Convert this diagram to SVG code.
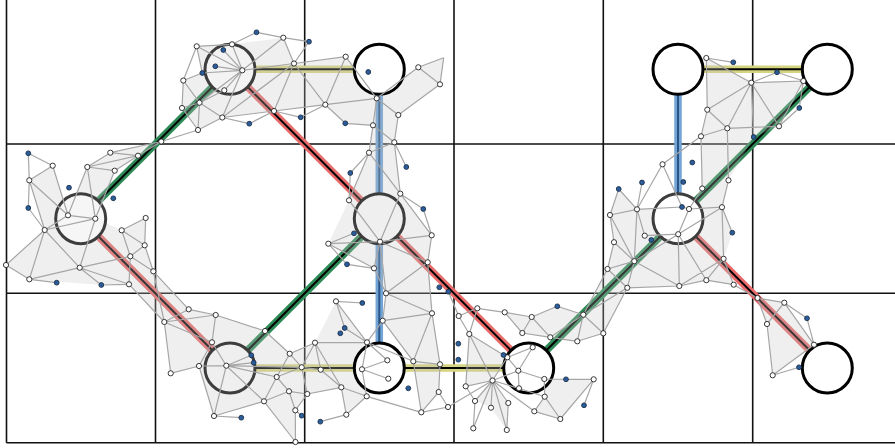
<svg xmlns="http://www.w3.org/2000/svg" width="895" height="448" viewBox="0 0 895 448">
<style>
.grid{stroke:#111;stroke-width:1.6;fill:none}
.band{fill:none;stroke-width:7.5}
.g{stroke:#2e8b57}
.r{stroke:#e86a6a}
.y{stroke:#d4d482}
.bl{stroke:#72a4d6}
.core{fill:none;stroke:#000;stroke-width:2}
.corebl{fill:none;stroke:#2a5585;stroke-width:2}
.hull{fill:#c4c4c4;fill-opacity:0.28;stroke:none}
.mesh{fill:none;stroke:#a6a6a6;stroke-width:1.2}
.big{stroke-width:3}
.w{fill:#fff;stroke:#222;stroke-width:0.9}
.b{fill:#2b5d9b;stroke:#1b2f4a;stroke-width:0.9}
</style>
<rect width="895" height="448" fill="#fff"/>
<g id="grid" class="grid">
<path d="M6.5 0V442.7M155.5 0V442.7M304.7 0V442.7M454 0V442.7M603.3 0V442.7M752.7 0V442.7M6.5 144H895M6.5 293.3H895M6.5 442.7H895"/>
</g>
<g id="connectors">
<g class="band">
<path class="g" d="M80.7 218.7L230 69.3M379.3 218.7L230 368M528.7 368L678 218.7M678 218.7L827.3 69.3"/>
<path class="r" d="M230 69.3L379.3 218.7M379.3 218.7L528.7 368M80.7 218.7L230 368M678 218.7L827.3 368"/>
<path class="y" d="M230 69.3H379.3M230 368H379.3M379.3 368H528.7M678 69.3H827.3"/>
<path class="bl" d="M379.3 69.3V368M678 69.3V218.7"/>
</g>
<path class="core" d="M80.7 218.7L230 69.3M379.3 218.7L230 368M528.7 368L678 218.7M678 218.7L827.3 69.3M230 69.3L379.3 218.7M379.3 218.7L528.7 368M80.7 218.7L230 368M678 218.7L827.3 368M230 69.3H379.3M230 368H379.3M379.3 368H528.7M678 69.3H827.3"/>
<path class="corebl" d="M379.3 69.3V368M678 69.3V218.7"/>
</g>
<g id="hulls" class="hull">
<polygon points="196.7,46.3 232,44.3 283.3,37.7 294,63.5 345.7,56.7 376.7,98.3 373,125.3 345.3,123.3 325.3,104.7 274,111 222.3,117.5 198,130 182,108 183.3,80.5 202.3,73"/>
<polygon points="376.7,98.3 418.3,67.3 443.7,57.7 440,84.3 398.3,115 394.3,142.3 400.3,193.7 431.7,235.3 427.7,262.3 432,313.3 382.7,320.7 386,293.3 374,268.3 328.3,243.7 349,200.3 369,152.7 373,125.3"/>
<polygon points="164.3,322 188.7,309.3 215.7,315 265,331 289.7,353.7 315,342.7 336,301.3 367,342.3 362,369.3 366.7,396.3 346.3,414.7 341.3,387.3 307.3,394 295.3,410.3 295.5,442 264,401.3 214,416 199,366 170.7,373.3"/>
<polygon points="382.7,320.7 432,313.3 440,364.3 438.7,392 421.3,412.3 413.3,361.3"/>
<polygon points="504.7,312.3 531.7,317 557.3,306.3 583.3,314.7 607.5,269 627.3,287.8 603.3,333.3 577.3,341.3 550.3,337.3 522.3,333"/>
<polygon points="469.3,334 507.3,357.3 492.5,380.5 465.7,386.3"/>
<polygon points="544.3,379 593.7,379.3 560.3,419 534.3,411.3 544.7,396.7"/>
<polygon points="492.5,380.5 508.3,403 506.8,430 491,407.7 475,401"/>
<polygon points="706.3,58 751.3,82.7 803.3,81 779,126.3 753.7,137 728.5,180.3 722,207.2 732.3,232.7 723.6,258.8 733.7,284.7 706.3,280.2 679.3,286 627.3,287.8 607.5,269 614,242.2 610,215 618.7,189 637,209.3 682,207 689,209 702.2,188.5 701,136.3 707.3,109.7"/>
<polygon points="161.3,141.5 114.7,170.7 95.3,218.7 121.7,230.3 145.7,218 144.7,245.3 153.3,271.3 188.7,309.3 164.3,322 129,284.3 101.3,285 29.3,279.3 6,265 44.7,230 29.3,180.3 52.7,165.7 68,215.3 87.3,167 110.3,152.7"/>
<polygon points="757.5,298 784.3,302.7 814,344.7 772.7,375.3 767,324"/>
</g>
<g id="node-r0c1"><circle cx="230" cy="69.3" r="25" class="big" fill="#f3f3f3" stroke="#3d3d3d"/></g>
<g id="node-r0c2"><circle cx="379.3" cy="69.3" r="25" class="big" fill="#fff" stroke="#000"/></g>
<g id="node-r0c4"><circle cx="678" cy="69.3" r="25" class="big" fill="#fff" stroke="#000"/></g>
<g id="node-r0c5"><circle cx="827.3" cy="69.3" r="25" class="big" fill="#fff" stroke="#000"/></g>
<g id="node-r1c0"><circle cx="80.7" cy="218.7" r="25" class="big" fill="#f6f6f6" stroke="#3d3d3d"/></g>
<g id="node-r1c2"><circle cx="379.3" cy="218.7" r="25" class="big" fill="#efefef" stroke="#3d3d3d"/></g>
<g id="node-r1c4"><circle cx="678" cy="218.7" r="25" class="big" fill="#fff" stroke="#3d3d3d"/></g>
<g id="node-r2c1"><circle cx="230" cy="368" r="25" class="big" fill="#efefef" stroke="#3d3d3d"/></g>
<g id="node-r2c2"><circle cx="379.3" cy="368" r="25" class="big" fill="#fff" stroke="#000"/></g>
<g id="node-r2c3"><circle cx="528.7" cy="368" r="25" class="big" fill="#fff" stroke="#000"/></g>
<g id="node-r2c5"><circle cx="827.3" cy="368" r="25" class="big" fill="#fff" stroke="#000"/></g>
<g id="mesh" class="mesh">
<path d="M196.7 46.3L232 44.3M196.7 46.3L202.3 73M196.7 46.3L242.3 70.3M232 44.3L256.5 32.3M232 44.3L242.3 70.3M256.5 32.3L283.3 37.7M283.3 37.7L309 41.7M283.3 37.7L242.3 70.3M283.3 37.7L294 63.5M309 41.7L294 63.5M223.3 50L242.3 70.3M215.3 66.3L242.3 70.3M202.3 73L242.3 70.3M242.3 70.3L294 63.5M242.3 70.3L224.3 90.3M242.3 70.3L199.5 102.7M242.3 70.3L222.3 117.5M294 63.5L274 111M294 63.5L222.3 117.5M224.3 90.3L199.5 102.7M183.3 80.5L202.3 73M183.3 80.5L182 108M183.3 80.5L199.5 102.7M196.7 46.3L183.3 80.5M182 108L199.5 102.7M182 108L198 130M199.5 102.7L198 130M199.5 102.7L222.3 117.5M222.3 117.5L198 130M222.3 117.5L249.3 123.7M222.3 117.5L274 111M249.3 123.7L274 111M274 111L300.7 117.3M198 130L161.3 141.5M294 63.5L345.7 56.7M294 63.5L325.3 104.7M274 111L325.3 104.7M300.7 117.3L325.3 104.7"/>
<path d="M345.7 56.7L325.3 104.7M345.7 56.7L376.7 98.3M325.3 104.7L376.7 98.3M325.3 104.7L345.3 123.3M345.3 123.3L373 125.3M373 125.3L376.7 98.3M376.7 98.3L398.3 115M376.7 98.3L418.3 67.3M418.3 67.3L443.7 57.7M443.7 57.7L440 84.3M418.3 67.3L440 84.3M440 84.3L398.3 115M398.3 115L394.3 142.3M373 125.3L394.3 142.3M373 125.3L369 152.7M394.3 142.3L369 152.7M394.3 142.3L406.3 167M394.3 142.3L400.3 193.7M369 152.7L350.3 173M369 152.7L400.3 193.7M369 152.7L349 200.3M350.3 173L349 200.3M400.3 193.7L423.3 209M400.3 193.7L431.7 235.3M423.3 209L431.7 235.3M400.3 193.7L380 241.7M349 200.3L380 241.7"/>
<path d="M328.3 243.7L380 241.7M328.3 243.7L354 233.3M328.3 243.7L374 268.3M328.3 243.7L347 264.3M347 264.3L374 268.3M380 241.7L374 268.3M380 241.7L386 293.3M374 268.3L386 293.3M380 241.7L431.7 235.3M380 241.7L427.7 262.3M431.7 235.3L427.7 262.3M427.7 262.3L386 293.3M427.7 262.3L432 313.3M448.3 291.7L458.7 316M386 293.3L432 313.3M386 293.3L382.7 320.7"/>
<path d="M432 313.3L382.7 320.7M336 301.3L362.3 303M336 301.3L344.7 328M336 301.3L367 342.3M344.7 328L367 342.3M315 342.7L367 342.3M315 342.7L301.7 367.3M315 342.7L320.7 369.7M315 342.7L341.3 387.3M382.7 320.7L367 342.3M382.7 320.7L413.3 361.3M432 313.3L413.3 361.3M432 313.3L440 364.3M367 342.3L362 369.3M367 342.3L387.3 360.3M367 342.3L413.3 361.3M362 369.3L387.3 360.3M362 369.3L388.3 378.7M320.7 369.7L301.7 367.3M320.7 369.7L341.3 387.3M301.7 367.3L307.3 394M341.3 387.3L307.3 394M341.3 387.3L366.7 396.3M341.3 387.3L346.3 414.7M346.3 414.7L366.7 396.3M346.3 414.7L320.3 421.7M366.7 396.3L362 369.3M413.3 361.3L440 364.3M413.3 361.3L421.3 412.3M440 364.3L438.7 392M438.7 392L448 407M438.7 392L421.3 412.3M421.3 412.3L448 407M421.3 412.3L366.7 396.3M448 407L492.5 380.5M307.3 394L295.3 410.3M307.3 394L289 391.3"/>
<path d="M164.3 322L188.7 309.3M164.3 322L215.7 315M188.7 309.3L215.7 315M164.3 322L212 342.3M164.3 322L170.7 373.3M170.7 373.3L199 366M212 342.3L199 366M215.7 315L212 342.3M215.7 315L265 331M212 342.3L226.3 365.7M199 366L226.3 365.7M226.3 365.7L251.3 355.3M226.3 365.7L253.7 362.7M226.3 365.7L301.7 367.3M226.3 365.7L276.7 377M226.3 365.7L264 401.3M226.3 365.7L214 416M199 366L214 416M214 416L241.3 417.7M214 416L264 401.3M264 401.3L276.7 377M264 401.3L289 391.3M264 401.3L295.5 442M276.7 377L289.7 353.7M276.7 377L289 391.3M276.7 377L301.7 367.3M289 391.3L295.3 410.3M295.3 410.3L301.7 415.7M295.3 410.3L295.5 442M289.7 353.7L301.7 367.3M265 331L289.7 353.7M289.7 353.7L315 342.7M164.3 322L153.3 271.3M188.7 309.3L153.3 271.3M164.3 322L129 284.3"/>
<path d="M28.3 153.3L52.7 165.7M28.3 153.3L29.3 180.3M52.7 165.7L29.3 180.3M52.7 165.7L68 215.3M29.3 180.3L68 215.3M29.3 180.3L28.3 208M29.3 180.3L44.7 230M28.3 208L44.7 230M68 215.3L44.7 230M68 215.3L95.3 218.7M87.3 167L68 215.3M87.3 167L95.3 218.7M87.3 167L110.3 152.7M87.3 167L138 155.7M87.3 167L114.7 170.7M110.3 152.7L138 155.7M110.3 152.7L161.3 141.5M138 155.7L161.3 141.5M138 155.7L114.7 170.7M114.7 170.7L95.3 218.7M44.7 230L6 265M44.7 230L79.7 267.7M44.7 230L95.3 218.7M6 265L29.3 279.3M44.7 230L29.3 279.3M29.3 279.3L79.7 267.7M29.3 279.3L56.7 282.7M79.7 267.7L101.3 285M101.3 285L129 284.3M79.7 267.7L129 284.3M79.7 267.7L130.3 256.3M95.3 218.7L79.7 267.7M121.7 230.3L145.7 218M121.7 230.3L130.3 256.3M121.7 230.3L144.7 245.3M145.7 218L144.7 245.3M144.7 245.3L130.3 256.3M130.3 256.3L153.3 271.3M130.3 256.3L129 284.3M144.7 245.3L153.3 271.3"/>
<path d="M477.3 308.3L504.7 312.3M477.3 308.3L458.7 316M458.7 316L469.3 334M477.3 308.3L469.3 334M504.7 312.3L531.7 317M504.7 312.3L522.3 333M531.7 317L557.3 306.3M531.7 317L522.3 333M531.7 317L550.3 337.3M557.3 306.3L583.3 314.7M550.3 337.3L583.3 314.7M550.3 337.3L577.3 341.3M583.3 314.7L577.3 341.3M522.3 333L550.3 337.3M583.3 314.7L603.3 333.3M577.3 341.3L603.3 333.3M583.3 314.7L607.5 269M583.3 314.7L627.3 287.8M603.3 333.3L627.3 287.8M469.3 334L507.3 357.3M469.3 334L492.5 380.5M469.3 334L465.7 386.3M507.3 357.3L492.5 380.5M507.3 357.3L518.3 370.7M507.3 357.3L532.7 347.3M518.3 370.7L544.3 379M532.7 347.3L518.3 370.7M518.3 370.7L492.5 380.5M544.3 379L593.7 379.3M544.3 379L544.7 396.7M593.7 379.3L560.3 419M566 379.3L593.7 379.3M544.7 396.7L560.3 419M544.7 396.7L534.3 411.3M519 388.3L544.7 396.7M519 388.3L518.3 370.7M492.5 380.5L465.7 386.3M492.5 380.5L475 401M492.5 380.5L491 407.7M492.5 380.5L508.3 403M492.5 380.5L519 388.3M492.5 380.5L473.3 428.3M492.5 380.5L506.8 430M492.5 380.5L534.3 411.3M465.7 386.3L475 401M475 401L473.3 428.3M508.3 403L506.8 430M534.3 411.3L560.3 419M584 405.3L593.7 379.3"/>
<path d="M662.5 164.3L637 209.3M662.5 164.3L682 207M662.5 164.3L701 136.3M618.7 189L610 215M618.7 189L637 209.3M642 182.5L637 209.3M610 215L637 209.3M610 215L614 242.2M637 209.3L682 207M637 209.3L644.7 235.7M637 209.3L634.3 261.2M610 215L634.3 261.2M682 207L689 209M689 209L702.2 188.5M702.2 188.5L701 136.3M689 209L678.2 234.2M689 209L722 207.2M678.2 234.2L644.7 235.7M678.2 234.2L679.3 286M678.2 234.2L722 207.2M678.2 234.2L634.3 261.2M678.2 234.2L706.3 280.2M722 207.2L728.5 180.3M722 207.2L732.3 232.7M722 207.2L723.6 258.8M723.6 258.8L733.7 284.7M723.6 258.8L706.3 280.2M723.6 258.8L679.3 286M679.3 286L706.3 280.2M706.3 280.2L733.7 284.7M679.3 286L634.3 261.2M679.3 286L627.3 287.8M634.3 261.2L627.3 287.8M634.3 261.2L614 242.2M634.3 261.2L607.5 269M614 242.2L607.5 269M607.5 269L627.3 287.8M733.7 284.7L757.5 298M728.5 180.3L727.3 128.3"/>
<path d="M706.3 58L733.3 62.3M706.3 58L751.3 82.7M706.3 58L707.3 109.7M751.3 82.7L777 72.3M777 72.3L803.3 81M751.3 82.7L803.3 81M751.3 82.7L707.3 109.7M751.3 82.7L727.3 128.3M751.3 82.7L779 126.3M751.3 82.7L753.7 137M803.3 81L779 126.3M803.3 81L799.3 108M799.3 108L779 126.3M707.3 109.7L727.3 128.3M707.3 109.7L701 136.3M727.3 128.3L701 136.3M727.3 128.3L779 126.3"/>
<path d="M757.5 298L784.3 302.7M757.5 298L767 324M784.3 302.7L807 318.3M784.3 302.7L767 324M807 318.3L814 344.7M784.3 302.7L814 344.7M767 324L772.7 375.3M814 344.7L772.7 375.3M799 367.3L772.7 375.3"/>
</g>
<g id="points">
<g class="w">
<circle cx="196.7" cy="46.3" r="2.6"/><circle cx="232" cy="44.3" r="2.6"/><circle cx="283.3" cy="37.7" r="2.6"/><circle cx="242.3" cy="70.3" r="2.6"/><circle cx="294" cy="63.5" r="2.6"/><circle cx="224.3" cy="90.3" r="2.6"/><circle cx="183.3" cy="80.5" r="2.6"/><circle cx="182" cy="108" r="2.6"/><circle cx="199.5" cy="102.7" r="2.6"/><circle cx="222.3" cy="117.5" r="2.6"/><circle cx="198" cy="130" r="2.6"/><circle cx="274" cy="111" r="2.6"/><circle cx="161.3" cy="141.5" r="2.6"/>
<circle cx="345.7" cy="56.7" r="2.6"/><circle cx="325.3" cy="104.7" r="2.6"/><circle cx="373" cy="125.3" r="2.6"/><circle cx="376.7" cy="98.3" r="2.6"/><circle cx="398.3" cy="115" r="2.6"/><circle cx="418.3" cy="67.3" r="2.6"/><circle cx="440" cy="84.3" r="2.6"/><circle cx="394.3" cy="142.3" r="2.6"/><circle cx="369" cy="152.7" r="2.6"/><circle cx="400.3" cy="193.7" r="2.6"/><circle cx="349" cy="200.3" r="2.6"/>
<circle cx="380" cy="241.7" r="2.6"/><circle cx="328.3" cy="243.7" r="2.6"/><circle cx="431.7" cy="235.3" r="2.6"/><circle cx="374" cy="268.3" r="2.6"/><circle cx="427.7" cy="262.3" r="2.6"/><circle cx="386" cy="293.3" r="2.6"/>
<circle cx="432" cy="313.3" r="2.6"/><circle cx="382.7" cy="320.7" r="2.6"/><circle cx="336" cy="301.3" r="2.6"/><circle cx="315" cy="342.7" r="2.6"/><circle cx="367" cy="342.3" r="2.6"/><circle cx="387.3" cy="360.3" r="2.6"/><circle cx="413.3" cy="361.3" r="2.6"/><circle cx="440" cy="364.3" r="2.6"/><circle cx="301.7" cy="367.3" r="2.6"/><circle cx="320.7" cy="369.7" r="2.6"/><circle cx="362" cy="369.3" r="2.6"/><circle cx="388.3" cy="378.7" r="2.6"/><circle cx="341.3" cy="387.3" r="2.6"/><circle cx="307.3" cy="394" r="2.6"/><circle cx="366.7" cy="396.3" r="2.6"/><circle cx="438.7" cy="392" r="2.6"/><circle cx="448" cy="407" r="2.6"/><circle cx="421.3" cy="412.3" r="2.6"/><circle cx="346.3" cy="414.7" r="2.6"/>
<circle cx="188.7" cy="309.3" r="2.6"/><circle cx="215.7" cy="315" r="2.6"/><circle cx="164.3" cy="322" r="2.6"/><circle cx="265" cy="331" r="2.6"/><circle cx="212" cy="342.3" r="2.6"/><circle cx="289.7" cy="353.7" r="2.6"/><circle cx="199" cy="366" r="2.6"/><circle cx="226.3" cy="365.7" r="2.6"/><circle cx="276.7" cy="377" r="2.6"/><circle cx="170.7" cy="373.3" r="2.6"/><circle cx="289" cy="391.3" r="2.6"/><circle cx="264" cy="401.3" r="2.6"/><circle cx="295.3" cy="410.3" r="2.6"/><circle cx="214" cy="416" r="2.6"/><circle cx="295.5" cy="442" r="2.6"/>
<circle cx="458.7" cy="316" r="2.6"/><circle cx="477.3" cy="308.3" r="2.6"/><circle cx="504.7" cy="312.3" r="2.6"/><circle cx="469.3" cy="334" r="2.6"/><circle cx="522.3" cy="333" r="2.6"/><circle cx="531.7" cy="317" r="2.6"/><circle cx="583.3" cy="314.7" r="2.6"/><circle cx="550.3" cy="337.3" r="2.6"/><circle cx="577.3" cy="341.3" r="2.6"/><circle cx="507.3" cy="357.3" r="2.6"/><circle cx="532.7" cy="347.3" r="2.6"/><circle cx="518.3" cy="370.7" r="2.6"/><circle cx="544.3" cy="379" r="2.6"/><circle cx="492.5" cy="380.5" r="2.6"/><circle cx="593.7" cy="379.3" r="2.6"/><circle cx="465.7" cy="386.3" r="2.6"/><circle cx="519" cy="388.3" r="2.6"/><circle cx="544.7" cy="396.7" r="2.6"/><circle cx="475" cy="401" r="2.6"/><circle cx="491" cy="407.7" r="2.6"/><circle cx="508.3" cy="403" r="2.6"/><circle cx="534.3" cy="411.3" r="2.6"/><circle cx="560.3" cy="419" r="2.6"/><circle cx="473.3" cy="428.3" r="2.6"/><circle cx="506.8" cy="430" r="2.6"/><circle cx="603.3" cy="333.3" r="2.6"/>
<circle cx="110.3" cy="152.7" r="2.6"/><circle cx="138" cy="155.7" r="2.6"/><circle cx="52.7" cy="165.7" r="2.6"/><circle cx="87.3" cy="167" r="2.6"/><circle cx="114.7" cy="170.7" r="2.6"/><circle cx="29.3" cy="180.3" r="2.6"/><circle cx="68" cy="215.3" r="2.6"/><circle cx="95.3" cy="218.7" r="2.6"/><circle cx="145.7" cy="218" r="2.6"/><circle cx="44.7" cy="230" r="2.6"/><circle cx="121.7" cy="230.3" r="2.6"/><circle cx="144.7" cy="245.3" r="2.6"/><circle cx="130.3" cy="256.3" r="2.6"/><circle cx="6" cy="265" r="2.6"/><circle cx="79.7" cy="267.7" r="2.6"/><circle cx="153.3" cy="271.3" r="2.6"/><circle cx="29.3" cy="279.3" r="2.6"/><circle cx="129" cy="284.3" r="2.6"/>
<circle cx="662.5" cy="164.3" r="2.6"/><circle cx="702.2" cy="188.5" r="2.6"/><circle cx="728.5" cy="180.3" r="2.6"/><circle cx="610" cy="215" r="2.6"/><circle cx="637" cy="209.3" r="2.6"/><circle cx="689" cy="209" r="2.6"/><circle cx="722" cy="207.2" r="2.6"/><circle cx="644.7" cy="235.7" r="2.6"/><circle cx="678.2" cy="234.2" r="2.6"/><circle cx="614" cy="242.2" r="2.6"/><circle cx="634.3" cy="261.2" r="2.6"/><circle cx="723.6" cy="258.8" r="2.6"/><circle cx="607.5" cy="269" r="2.6"/><circle cx="627.3" cy="287.8" r="2.6"/><circle cx="679.3" cy="286" r="2.6"/><circle cx="706.3" cy="280.2" r="2.6"/><circle cx="733.7" cy="284.7" r="2.6"/><circle cx="757.5" cy="298" r="2.6"/>
<circle cx="706.3" cy="58" r="2.6"/><circle cx="751.3" cy="82.7" r="2.6"/><circle cx="803.3" cy="81" r="2.6"/><circle cx="707.3" cy="109.7" r="2.6"/><circle cx="779" cy="126.3" r="2.6"/><circle cx="727.3" cy="128.3" r="2.6"/><circle cx="701" cy="136.3" r="2.6"/>
<circle cx="784.3" cy="302.7" r="2.6"/><circle cx="767" cy="324" r="2.6"/><circle cx="814" cy="344.7" r="2.6"/><circle cx="772.7" cy="375.3" r="2.6"/>
</g>
<g class="b">
<circle cx="256.5" cy="32.3" r="2.4"/><circle cx="309" cy="41.7" r="2.4"/><circle cx="223.3" cy="50" r="2.4"/><circle cx="215.3" cy="66.3" r="2.4"/><circle cx="202.3" cy="73" r="2.4"/><circle cx="249.3" cy="123.7" r="2.4"/><circle cx="300.7" cy="117.3" r="2.4"/>
<circle cx="368.3" cy="72" r="2.4"/><circle cx="345.3" cy="123.3" r="2.4"/><circle cx="406.3" cy="167" r="2.4"/><circle cx="350.3" cy="173" r="2.4"/><circle cx="423.3" cy="209" r="2.4"/>
<circle cx="354" cy="233.3" r="2.4"/><circle cx="347" cy="264.3" r="2.4"/><circle cx="439.3" cy="287.3" r="2.4"/><circle cx="448.3" cy="291.7" r="2.4"/>
<circle cx="362.3" cy="303" r="2.4"/><circle cx="344.7" cy="328" r="2.4"/><circle cx="340.3" cy="333.3" r="2.4"/><circle cx="408.3" cy="388.3" r="2.4"/><circle cx="301.7" cy="415.7" r="2.4"/><circle cx="320.3" cy="421.7" r="2.4"/>
<circle cx="251.3" cy="355.3" r="2.4"/><circle cx="253.7" cy="362.7" r="2.4"/><circle cx="241.3" cy="417.7" r="2.4"/>
<circle cx="557.3" cy="306.3" r="2.4"/><circle cx="458.3" cy="343.7" r="2.4"/><circle cx="458.3" cy="359.7" r="2.4"/><circle cx="503.5" cy="355" r="2.4"/><circle cx="566" cy="379.3" r="2.4"/><circle cx="584" cy="405.3" r="2.4"/>
<circle cx="28.3" cy="153.3" r="2.4"/><circle cx="69" cy="187.7" r="2.4"/><circle cx="113.3" cy="198.3" r="2.4"/><circle cx="28.3" cy="208" r="2.4"/><circle cx="56.7" cy="282.7" r="2.4"/><circle cx="101.3" cy="285" r="2.4"/>
<circle cx="692.3" cy="162.5" r="2.4"/><circle cx="618.7" cy="189" r="2.4"/><circle cx="642" cy="182.5" r="2.4"/><circle cx="683.3" cy="182" r="2.4"/><circle cx="682" cy="207" r="2.4"/><circle cx="732.3" cy="232.7" r="2.4"/><circle cx="651.3" cy="240" r="2.4"/>
<circle cx="733.3" cy="62.3" r="2.4"/><circle cx="777" cy="72.3" r="2.4"/><circle cx="799.3" cy="108" r="2.4"/><circle cx="753.7" cy="137" r="2.4"/>
<circle cx="807" cy="318.3" r="2.4"/><circle cx="799" cy="367.3" r="2.4"/>
</g>
</g>
</svg>
